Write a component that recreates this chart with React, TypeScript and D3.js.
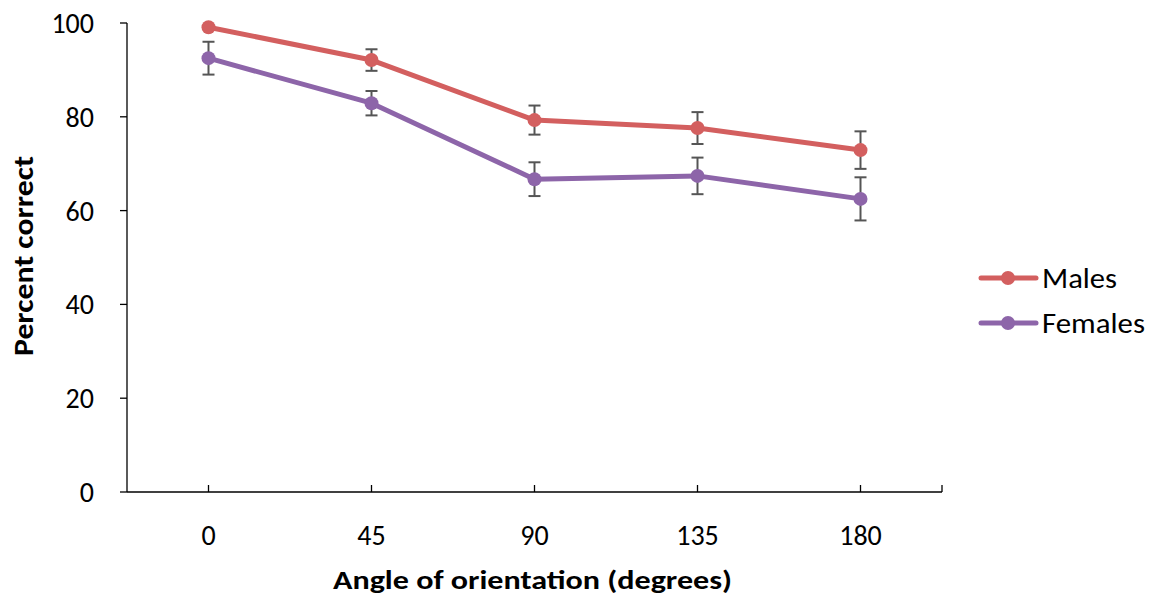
import React from "react";
import * as d3 from "d3";

const angles = ["0", "45", "90", "135", "180"];
const males = [99.1, 92.1, 79.3, 77.6, 72.9];
const malesErr = [0, 2.3, 3.1, 3.4, 4.0];
const females = [92.5, 82.9, 66.7, 67.4, 62.5];
const femalesErr = [3.5, 2.6, 3.6, 3.9, 4.6];
const yTicks = [0, 20, 40, 60, 80, 100];

const series = [
  { name: "Males", values: males, err: malesErr, color: "#D35F5F" },
  { name: "Females", values: females, err: femalesErr, color: "#8D65A9" },
];
const legendWidths = [75, 103];

export default function App() {
  const W = 1155, H = 599;
  const left = 127, right = 942, top = 23, bottom = 492;
  const x = d3.scalePoint<string>().domain(angles).range([left, right]).padding(0.5);
  const y = d3.scaleLinear().domain([0, 100]).range([bottom, top]);
  const font = "Calibri, Carlito, 'Liberation Sans', Arial, sans-serif";
  const line = d3.line<number>().x((_, i) => x(angles[i])!).y((v) => y(v));
  const cap = 6;

  return (
    <svg width={W} height={H} style={{ position: "absolute", left: 0, top: 0 }} fontFamily={font}>
      <rect width={W} height={H} fill="#fff" />
      {/* y axis */}
      <line x1={left} x2={left} y1={top} y2={bottom} stroke="#000" strokeWidth={1.3} />
      {yTicks.map((t) => (
        <g key={t}>
          <line x1={left - 7} x2={left} y1={y(t)} y2={y(t)} stroke="#000" strokeWidth={1.3} />
          <text x={94} y={y(t)} dy="0.36em" textAnchor="end" fontSize={28} fill="#000">{t}</text>
        </g>
      ))}
      {/* x axis */}
      <line x1={left} x2={right} y1={bottom} y2={bottom} stroke="#000" strokeWidth={1.6} />
      {angles.map((a) => (
        <g key={a}>
          <line x1={x(a)} x2={x(a)} y1={bottom - 7} y2={bottom} stroke="#000" strokeWidth={1.3} />
          <text x={x(a)} y={545} textAnchor="middle" fontSize={28} fill="#000">{a}</text>
        </g>
      ))}
      <line x1={right} x2={right} y1={bottom - 7} y2={bottom} stroke="#000" strokeWidth={1.3} />
      <text x={532.5} y={589} textAnchor="middle" fontSize={27} fontWeight="bold" textLength={399} lengthAdjust="spacingAndGlyphs">Angle of orientation (degrees)</text>
      <text transform={`translate(33, 256) rotate(-90)`} textAnchor="middle" fontSize={28} fontWeight="bold" textLength={200} lengthAdjust="spacingAndGlyphs">Percent correct</text>

      {series.map((s) => (
        <g key={s.name}>
          <path d={line(s.values)!} fill="none" stroke={s.color} strokeWidth={5} strokeLinejoin="round" />
          {s.values.map((v, i) =>
            s.err[i] > 0 ? (
              <g key={i} stroke="#555" strokeWidth={2}>
                <line x1={x(angles[i])} x2={x(angles[i])} y1={y(v - s.err[i])} y2={y(v + s.err[i])} />
                <line x1={x(angles[i])! - cap} x2={x(angles[i])! + cap} y1={y(v - s.err[i])} y2={y(v - s.err[i])} />
                <line x1={x(angles[i])! - cap} x2={x(angles[i])! + cap} y1={y(v + s.err[i])} y2={y(v + s.err[i])} />
              </g>
            ) : null
          )}
          {s.values.map((v, i) => (
            <circle key={i} cx={x(angles[i])} cy={y(v)} r={7} fill={s.color} />
          ))}
        </g>
      ))}

      {series.map((s, i) => {
        const ly = 278 + i * 45;
        return (
          <g key={s.name}>
            <line x1={981} x2={1036} y1={ly} y2={ly} stroke={s.color} strokeWidth={5} strokeLinecap="round" />
            <circle cx={1008} cy={ly} r={7} fill={s.color} />
            <text x={1042} y={ly + 10} fontSize={29} fill="#000" textLength={legendWidths[i]} lengthAdjust="spacingAndGlyphs">{s.name}</text>
          </g>
        );
      })}
    </svg>
  );
}
